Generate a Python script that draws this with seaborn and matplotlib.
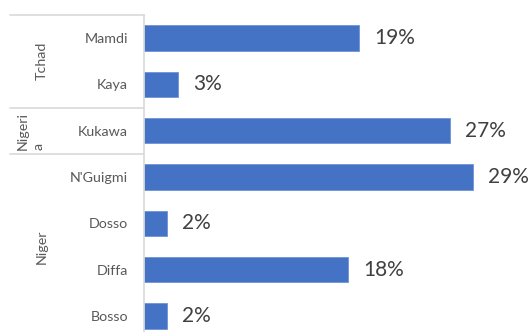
import matplotlib
matplotlib.use("Agg")
import matplotlib.pyplot as plt
import matplotlib.transforms as mtransforms
import seaborn as sns
import pandas as pd

# Sites, their country group and share of respondents (%)
sites = ["Mamdi", "Kaya", "Kukawa", "N'Guigmi", "Dosso", "Diffa", "Bosso"]
countries = ["Tchad", "Tchad", "Nigeria", "Niger", "Niger", "Niger", "Niger"]
shares = [19, 3, 27, 29, 2, 18, 2]
group_labels = ["Tchad", "Nigeri\na", "Niger"]

df = pd.DataFrame({"site": sites, "country": countries, "share": shares})

sns.set_theme(style="white")
plt.rcParams["font.family"] = ["Lato", "DejaVu Sans"]

W, H = 531, 332
fig = plt.figure(figsize=(W / 100, H / 100), dpi=100)
ax_left, ax_right = 144, 510
ax_top, ax_bottom = 15, 339
ax = fig.add_axes([ax_left / W, 1 - ax_bottom / H,
                   (ax_right - ax_left) / W, (ax_bottom - ax_top) / H])

sns.barplot(data=df, y="site", x="share", orient="h", color="#4472C4",
            saturation=1, width=0.55, edgecolor="#6f93d6", linewidth=0.6, ax=ax)

ax.set_xlim(0, 32.3)
ax.set_ylim(6.5, -0.5)
ax.set_xlabel("")
ax.set_ylabel("")
ax.set_xticks([])
for s in ["top", "right", "bottom"]:
    ax.spines[s].set_visible(False)
ax.spines["left"].set_color("#d9d9d9")
ax.spines["left"].set_linewidth(1.2)
ax.tick_params(axis="y", length=0, pad=11.5, labelsize=10.3, labelcolor="#595959")

# value labels to the right of each bar
for i, v in enumerate(shares):
    ax.text(v + 1.35, i, f"{v}%", va="center", ha="left",
            fontsize=15, color="#404040")

# country group separators and labels on the left
trans = mtransforms.blended_transform_factory(ax.transAxes, ax.transData)
x0 = (10 - ax_left) / (ax_right - ax_left)
for yb in [-0.5, 1.5, 2.5]:
    ax.plot([x0, 0], [yb, yb], transform=trans, color="#d9d9d9",
            lw=1.2, clip_on=False)

xg = (42 - ax_left) / (ax_right - ax_left)
xn = (31 - ax_left) / (ax_right - ax_left)
ax.text(xg, 0.5, group_labels[0], transform=trans, rotation=90,
        ha="center", va="center", fontsize=10.3, color="#595959")
ax.text(xn, 2.0, group_labels[1], transform=trans, rotation=90,
        ha="center", va="center", fontsize=10.3, color="#595959",
        linespacing=1.35, multialignment="left")
ax.text(xg, 4.5, group_labels[2], transform=trans, rotation=90,
        ha="center", va="center", fontsize=10.3, color="#595959")

fig.savefig("out.png", dpi=100)
